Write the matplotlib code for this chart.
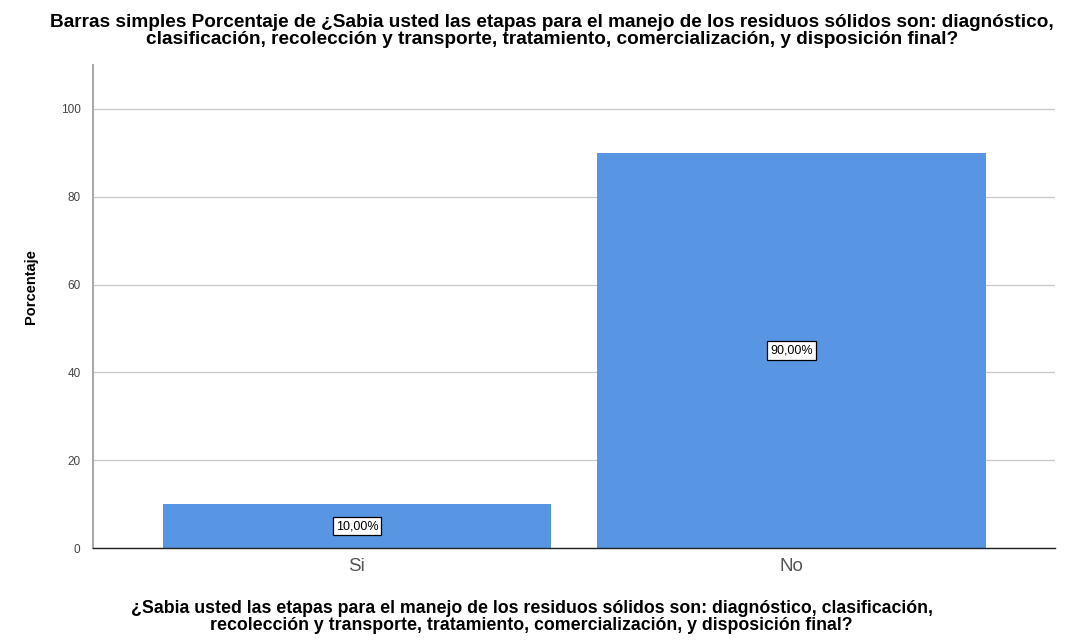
import matplotlib.pyplot as plt

plt.rcParams['font.family'] = ['Liberation Sans', 'DejaVu Sans']

categorias = ["Si", "No"]
porcentajes = [10.0, 90.0]
etiquetas = ["10,00%", "90,00%"]

titulo = ("Barras simples Porcentaje de ¿Sabia usted las etapas para el manejo de los residuos sólidos son: diagnóstico,\n"
          "clasificación, recolección y transporte, tratamiento, comercialización, y disposición final?")
xlabel = ("¿Sabia usted las etapas para el manejo de los residuos sólidos son: diagnóstico, clasificación,\n"
          "recolección y transporte, tratamiento, comercialización, y disposición final?")

fig = plt.figure(figsize=(10.65, 6.44), dpi=100)
ax = fig.add_axes([0.0873, 0.149, 0.9033, 0.750])

x = range(len(categorias))
bars = ax.bar(x, porcentajes, width=0.894, color='#5896e4', zorder=2)

for b, v, t in zip(bars, porcentajes, etiquetas):
    ax.text(b.get_x() + b.get_width() / 2, v / 2, t, ha='center', va='center',
            fontsize=9, zorder=3,
            bbox=dict(boxstyle='square,pad=0.25', fc='white', ec='black', lw=0.9))

ax.set_xlim(-0.607, 1.605)
ax.set_ylim(0, 110)
ax.set_yticks([0, 20, 40, 60, 80, 100])
ax.set_xticks(list(x))
ax.set_xticklabels(categorias, fontsize=13.5, color='#555555')
ax.tick_params(axis='y', labelsize=8.5, labelcolor='#444444', length=0, pad=9)
ax.tick_params(axis='x', length=0, pad=7)
ax.yaxis.grid(True, color='#c8c8c8', lw=0.9, zorder=0)

for s in ['top', 'right']:
    ax.spines[s].set_visible(False)
ax.spines['left'].set_color('#aaaaaa')
ax.spines['left'].set_linewidth(1.5)
ax.spines['bottom'].set_color('#222222')
ax.spines['bottom'].set_linewidth(1.0)

ax.set_ylabel('Porcentaje', fontsize=10.5, fontweight='bold')
ax.yaxis.set_label_coords(-0.057, 0.542)
ax.set_xlabel(xlabel, fontsize=12.8, fontweight='bold', linespacing=1.0)
ax.xaxis.set_label_coords(0.456, -0.108)
fig.suptitle(titulo, fontsize=13.7, fontweight='bold', x=0.518, y=0.979, linespacing=1.05)

fig.savefig('out.png', dpi=100)
